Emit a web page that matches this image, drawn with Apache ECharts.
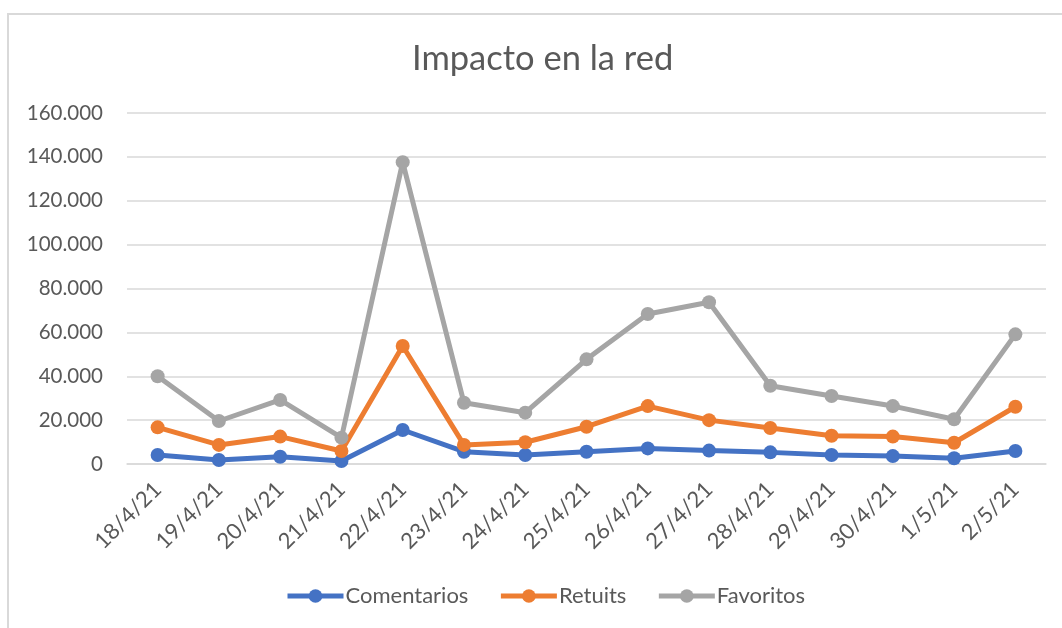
<!DOCTYPE html>
<html>
<head>
<meta charset="utf-8">
<title>Impacto en la red</title>
<script src="https://cdn.jsdelivr.net/npm/echarts@6/dist/echarts.min.js"></script>
<style>
  html, body { margin: 0; padding: 0; background: #fff; }
  #frame {
    position: absolute; left: 7px; top: 13px; right: 0; bottom: 0;
    border-top: 2px solid #d9d9d9; border-left: 2px solid #d9d9d9;
  }
  #chart { position: absolute; left: 0; top: 0; width: 1062px; height: 628px; }
</style>
</head>
<body>
<div id="frame"></div>
<div id="chart"></div>
<script>
// fechas del eje x
const fechas = ['18/4/21', '19/4/21', '20/4/21', '21/4/21', '22/4/21', '23/4/21', '24/4/21',
  '25/4/21', '26/4/21', '27/4/21', '28/4/21', '29/4/21', '30/4/21', '1/5/21', '2/5/21']

const comentarios = [4100, 1800, 3300, 1400, 15500, 5600, 4100, 5600, 7100, 6100, 5300, 4100, 3600, 2600, 5900]
const retuits = [16700, 8700, 12500, 5900, 53800, 8700, 9900, 17000, 26400, 20000, 16400, 12900, 12500, 9700, 26100]
const favoritos = [40000, 19600, 29200, 12000, 137600, 27900, 23400, 47700, 68400, 73700, 35700, 31000, 26400, 20400, 59100]

const nombres = ['Comentarios', 'Retuits', 'Favoritos']
const colores = ['#4472c4', '#ed7d31', '#a5a5a5']

const fuente = 'Lato, "Liberation Sans", sans-serif'
const gris = '#595959'

function miles(v) {
  return String(v).replace(/\B(?=(\d{3})+(?!\d))/g, '.')
}

function serie(nombre, datos, color) {
  return {
    name: nombre,
    type: 'line',
    data: datos,
    symbol: 'circle',
    symbolSize: 14,
    lineStyle: { width: 5, color: color },
    itemStyle: { color: color },
    emphasis: { disabled: true }
  }
}

const chart = echarts.init(document.getElementById('chart'), null, { renderer: 'canvas' })
chart.setOption({
  animation: false,
  title: {
    text: 'Impacto en la red',
    left: 407,
    top: 36,
    textStyle: { fontFamily: fuente, fontSize: 34.5, fontWeight: 'normal', color: gris }
  },
  grid: { left: 127, right: 16, top: 113, bottom: 164 },
  legend: {
    bottom: 16,
    left: 280,
    itemWidth: 56,
    itemHeight: 17,
    itemGap: 30,
    data: nombres,
    lineStyle: { width: 5 },
    textStyle: { fontFamily: fuente, fontSize: 22, color: gris, padding: [0, 0, 0, -3] }
  },
  xAxis: {
    type: 'category',
    data: fechas,
    boundaryGap: true,
    axisLine: { lineStyle: { color: '#d9d9d9', width: 1.5 } },
    axisTick: { show: false },
    axisLabel: {
      rotate: 45,
      interval: 0,
      margin: 22,
      fontFamily: fuente,
      fontSize: 22,
      color: gris
    }
  },
  yAxis: {
    type: 'value',
    min: 0,
    max: 160000,
    interval: 20000,
    axisLine: { show: false },
    axisTick: { show: false },
    splitLine: { lineStyle: { color: '#d9d9d9', width: 1.5 } },
    axisLabel: {
      margin: 24,
      fontFamily: fuente,
      fontSize: 20.5,
      color: gris,
      formatter: miles
    }
  },
  series: [
    serie(nombres[0], comentarios, colores[0]),
    serie(nombres[1], retuits, colores[1]),
    serie(nombres[2], favoritos, colores[2])
  ]
})
</script>
</body>
</html>
